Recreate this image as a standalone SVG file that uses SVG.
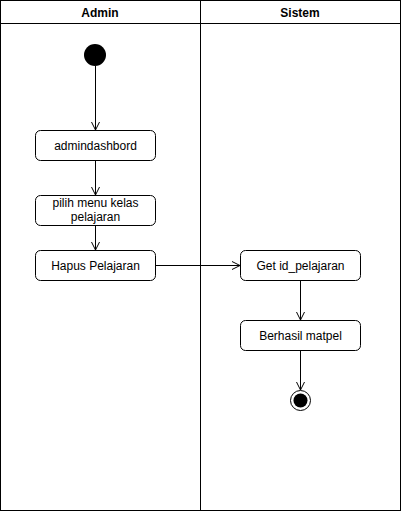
<svg xmlns="http://www.w3.org/2000/svg" width="401" height="511" viewBox="0 0 401 511">
<style>
.lane{fill:none;stroke:#000;stroke-width:1}
.node rect{fill:#fff;stroke:#000;stroke-width:1}
text{font-family:"Liberation Sans",Arial,sans-serif;font-size:12px;fill:#000;text-anchor:middle}
.hdr{font-weight:bold}
.edge{fill:none;stroke:#000;stroke-width:1;marker-end:url(#open)}
</style>
<defs>
<marker id="open" viewBox="0 0 10 10" refX="9" refY="5" markerWidth="10" markerHeight="10" markerUnits="userSpaceOnUse" orient="auto">
<path d="M1,1 L9,5 L1,9" fill="none" stroke="#000" stroke-width="1"/>
</marker>
</defs>
<rect width="401" height="511" fill="#fff"/>
<g id="lanes">
<rect class="lane" x="0.5" y="0.5" width="400" height="510"/>
<line class="lane" x1="0.5" y1="23.5" x2="400.5" y2="23.5"/>
<line class="lane" x1="200.5" y1="0.5" x2="200.5" y2="510.5"/>
<text class="hdr" x="100" y="17">Admin</text>
<text class="hdr" x="300" y="17">Sistem</text>
</g>
<g id="start"><circle cx="95" cy="55" r="11" fill="#000"/></g>
<g id="n1" class="node"><rect x="35.5" y="130.5" width="120" height="30" rx="5"/><text x="95.5" y="150">admindashbord</text></g>
<g id="n2" class="node"><rect x="35.5" y="195.5" width="120" height="30" rx="5"/><text x="95.5" y="207">pilih menu kelas</text><text x="95.5" y="221">pelajaran</text></g>
<g id="n3" class="node"><rect x="35.5" y="250.5" width="120" height="30" rx="5"/><text x="95.5" y="270">Hapus Pelajaran</text></g>
<g id="n4" class="node"><rect x="240.5" y="250.5" width="120" height="30" rx="5"/><text x="300.5" y="270">Get id_pelajaran</text></g>
<g id="n5" class="node"><rect x="240.5" y="320.5" width="120" height="30" rx="5"/><text x="300.5" y="340">Berhasil matpel</text></g>
<g id="end"><circle cx="300.5" cy="400.5" r="10" fill="#fff" stroke="#000" stroke-width="1"/><circle cx="300.5" cy="400.5" r="7" fill="#000"/></g>
<g id="connectors">
<path class="edge" d="M95.5,66 L95.5,130"/>
<path class="edge" d="M95.5,160.5 L95.5,195"/>
<path class="edge" d="M95.5,225.5 L95.5,250"/>
<path class="edge" d="M155.5,265.5 L240,265.5"/>
<path class="edge" d="M300.5,280.5 L300.5,320"/>
<path class="edge" d="M300.5,350.5 L300.5,390"/>
</g>
</svg>
